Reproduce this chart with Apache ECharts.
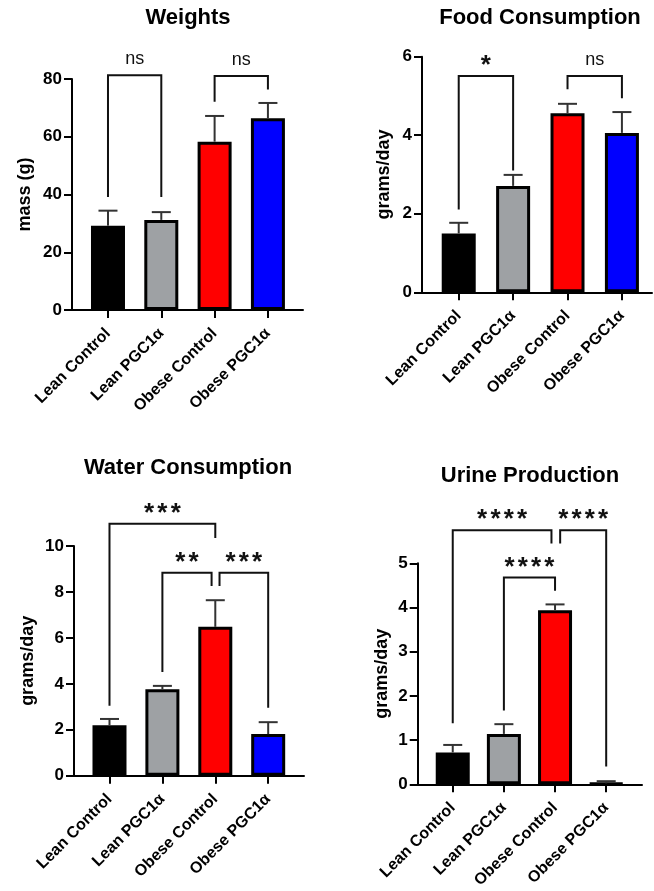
<!DOCTYPE html>
<html><head><meta charset="utf-8">
<script src="https://cdn.jsdelivr.net/npm/echarts@6/dist/echarts.min.js"></script>
<style>html,body{margin:0;padding:0;background:#fff}#c{width:654px;height:891px}</style>
</head><body><div id="c"></div>
<script>
// ---------- data ----------
const categories = ['Lean Control', 'Lean PGC1α', 'Obese Control', 'Obese PGC1α'];

const weightMean = [29.2, 31.2, 58.3, 66.4];
const weightSem  = [5.2, 2.7, 8.9, 5.3];
const weightTicks = [0, 20, 40, 60, 80];

const foodMean = [1.50, 2.71, 4.56, 4.06];
const foodSem  = [0.27, 0.28, 0.24, 0.53];
const foodTicks = [0, 2, 4, 6];

const waterMean = [2.20, 3.76, 6.48, 1.81];
const waterSem  = [0.27, 0.15, 1.16, 0.52];
const waterTicks = [0, 2, 4, 6, 8, 10];

const urineMean = [0.72, 1.14, 3.94, 0.02];
const urineSem  = [0.17, 0.22, 0.13, 0.05];
const urineTicks = [0, 1, 2, 3, 4, 5];

// significance brackets: from/to group index, bracket top value, leg end values, label
const weightComparisons = [
  {from: 0, to: 1, top: 81.3, leftEnd: 39.1, rightEnd: 39.1, label: 'ns'},
  {from: 2, to: 3, top: 81.0, leftEnd: 72.1, rightEnd: 76.4, label: 'ns'}
];
const foodComparisons = [
  {from: 0, to: 1, top: 5.51, leftEnd: 2.11, rightEnd: 3.10, label: '*'},
  {from: 2, to: 3, top: 5.51, leftEnd: 5.17, rightEnd: 4.94, label: 'ns'}
];
const waterComparisons = [
  {from: 0, to: 2, top: 10.97, leftEnd: 3.04, rightEnd: 10.35, label: '***'},
  {from: 1, to: 2, top: 8.83, leftEnd: 4.52, rightEnd: 8.26, label: '**', toShift: -0.07},
  {from: 2, to: 3, top: 8.83, leftEnd: 8.26, rightEnd: 2.96, label: '***', fromShift: 0.08}
];
const urineComparisons = [
  {from: 0, to: 2, top: 5.75, leftEnd: 1.38, rightEnd: 5.45, label: '****', toShift: -0.07},
  {from: 2, to: 3, top: 5.75, leftEnd: 5.45, rightEnd: 0.40, label: '****', fromShift: 0.10},
  {from: 1, to: 2, top: 4.68, leftEnd: 1.67, rightEnd: 4.38, label: '****'}
];

// ---------- styles / layout ----------
const barColors = ['#000000', '#9ea1a4', '#ff0000', '#0000ff'];
const FONT = "'Liberation Sans', Arial, Helvetica, sans-serif";

const panels = [
  {title: 'Weights', yName: 'mass (g)', mean: weightMean, sem: weightSem, ticks: weightTicks, comps: weightComparisons,
   grid: {left: 72, top: 79, width: 231, height: 231}, xRange: [-0.675, 3.658], nameGap: 38, titleXY: [188, 18]},
  {title: 'Food Consumption', yName: 'grams/day', mean: foodMean, sem: foodSem, ticks: foodTicks, comps: foodComparisons,
   grid: {left: 422, top: 56.7, width: 230, height: 235.6}, xRange: [-0.675, 3.553], nameGap: 29, titleXY: [540, 18]},
  {title: 'Water Consumption', yName: 'grams/day', mean: waterMean, sem: waterSem, ticks: waterTicks, comps: waterComparisons,
   grid: {left: 74, top: 546, width: 230, height: 229.7}, xRange: [-0.671, 3.677], nameGap: 37, titleXY: [188, 468]},
  {title: 'Urine Production', yName: 'grams/day', mean: urineMean, sem: urineSem, ticks: urineTicks, comps: urineComparisons,
   grid: {left: 417.7, top: 563.3, width: 224.3, height: 221}, xRange: [-0.685, 3.70], nameGap: 27, titleXY: [530, 476]}
];

const catIdx = categories.map((c, i) => i);

const option = {
  animation: false,
  backgroundColor: '#fff',
  textStyle: {fontFamily: FONT},
  grid: [], xAxis: [], yAxis: [], series: [], graphic: []
};

panels.forEach((p, i) => {
  option.grid.push(Object.assign({containLabel: false}, p.grid));
  option.graphic.push({
    type: 'text', x: p.titleXY[0], y: p.titleXY[1], z: 10,
    style: {text: p.title, font: "bold 22px " + FONT, fill: '#000', textAlign: 'center', textVerticalAlign: 'middle'}
  });
  option.xAxis.push({
    type: 'value', gridIndex: i, min: p.xRange[0], max: p.xRange[1],
    axisLine: {show: true, onZero: false, lineStyle: {color: '#000', width: 2}},
    axisTick: {show: true, customValues: catIdx, length: 8, lineStyle: {color: '#000', width: 2}},
    axisLabel: {show: true, customValues: catIdx, formatter: v => categories[Math.round(v)] || '',
      rotate: 45, fontSize: 16, fontWeight: 'bold', color: '#000', margin: 21, fontFamily: FONT},
    splitLine: {show: false}
  });
  const t = p.ticks;
  option.yAxis.push({
    type: 'value', gridIndex: i, min: t[0], max: t[t.length - 1], interval: t[1] - t[0],
    name: p.yName, nameLocation: 'middle', nameGap: p.nameGap,
    nameTextStyle: {fontSize: 18, fontWeight: 'bold', color: '#000', fontFamily: FONT},
    axisLine: {show: true, onZero: false, lineStyle: {color: '#000', width: 2}},
    axisTick: {show: true, length: 8, lineStyle: {color: '#000', width: 2}},
    axisLabel: {fontSize: 17, fontWeight: 'bold', color: '#000', margin: 10, fontFamily: FONT},
    splitLine: {show: false}
  });
  // bars
  option.series.push({
    type: 'bar', xAxisIndex: i, yAxisIndex: i, barWidth: 34, z: 2,
    itemStyle: {borderColor: '#000', borderWidth: 3},
    data: p.mean.map((v, k) => ({value: [k, v], itemStyle: {color: barColors[k]}}))
  });
  // error bars (upper only)
  option.series.push({
    type: 'custom', xAxisIndex: i, yAxisIndex: i, z: 3, clip: false,
    encode: {x: 0, y: [1, 2]},
    data: p.mean.map((v, k) => [k, v, v + p.sem[k]]),
    renderItem: (params, api) => {
      const x = api.value(0);
      const a = api.coord([x, api.value(1)]);
      const b = api.coord([x, api.value(2)]);
      const st = {stroke: '#333', lineWidth: 2};
      return {type: 'group', children: [
        {type: 'line', shape: {x1: a[0], y1: a[1], x2: b[0], y2: b[1]}, style: st},
        {type: 'line', shape: {x1: b[0] - 9.5, y1: b[1], x2: b[0] + 9.5, y2: b[1]}, style: st}
      ]};
    }
  });
  // significance brackets
  const comps = p.comps;
  option.series.push({
    type: 'custom', xAxisIndex: i, yAxisIndex: i, z: 4, clip: false,
    encode: {x: [0, 1], y: [2, 3, 4]},
    data: comps.map(c => [c.from + (c.fromShift || 0), c.to + (c.toShift || 0), c.top, c.leftEnd, c.rightEnd]),
    renderItem: (params, api) => {
      const x1 = api.value(0), x2 = api.value(1), top = api.value(2);
      const a = api.coord([x1, api.value(3)]);
      const b = api.coord([x1, top]);
      const c = api.coord([x2, top]);
      const d = api.coord([x2, api.value(4)]);
      const label = comps[params.dataIndex].label;
      const mx = (b[0] + c[0]) / 2, my = b[1] - 16;
      const children = [{type: 'polyline', shape: {points: [a, b, c, d]},
        style: {stroke: '#111', lineWidth: 2, fill: null}}];
      if (label === 'ns') {
        children.push({type: 'text', style: {text: 'ns', x: mx, y: my, font: '18px ' + FONT, fill: '#111',
          textAlign: 'center', textVerticalAlign: 'middle'}});
      } else {
        const n = label.length, pitch = 13.3;
        for (let j = 0; j < n; j++) {
          children.push({type: 'text', style: {text: '*', x: mx + (j - (n - 1) / 2) * pitch, y: my + 6,
            font: 'bold 26px ' + FONT, fill: '#111', textAlign: 'center', textVerticalAlign: 'middle'}});
        }
      }
      return {type: 'group', children: children};
    }
  });
});

const chart = echarts.init(document.getElementById('c'), null, {renderer: 'canvas'});
chart.setOption(option);
</script>
</body></html>
